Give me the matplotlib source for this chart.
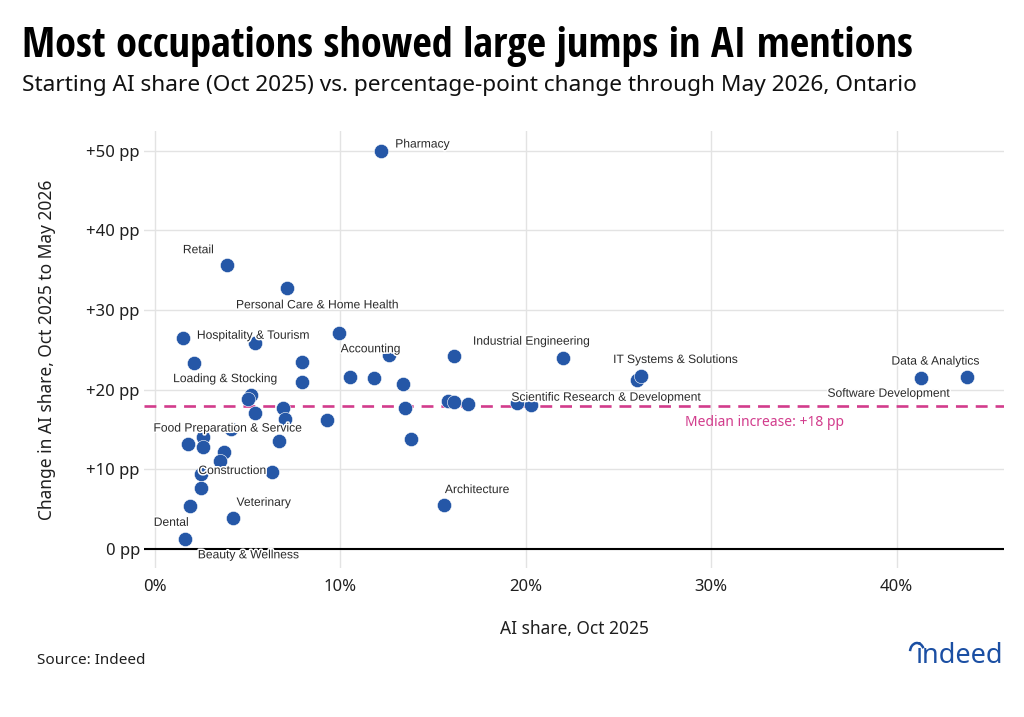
"""Scatter of starting AI share vs. change in AI share by occupation, Ontario."""

import matplotlib

matplotlib.use("Agg")
import matplotlib.pyplot as plt  # noqa: E402
import matplotlib.patheffects as pe  # noqa: E402
from matplotlib.patches import Arc  # noqa: E402
from matplotlib.ticker import FuncFormatter, MultipleLocator  # noqa: E402

# --- data ---
ai_share_oct25 = [
    12.2, 3.9, 7.1, 9.9, 1.5, 5.4, 2.1, 7.9, 12.6, 16.1,
    22.0, 10.5, 11.8, 7.9, 13.4, 26.0, 26.2, 41.3, 43.8, 5.2,
    5.0, 6.9, 13.5, 5.4, 7.0, 9.3, 13.8, 15.8, 16.1, 16.9,
    19.5, 20.3, 4.1, 2.6, 1.8, 2.6, 6.7, 3.7, 3.5, 6.3,
    2.5, 2.5, 1.9, 4.2, 1.6, 15.6,
]
change_pp = [
    50.0, 35.6, 32.7, 27.1, 26.5, 25.9, 23.3, 23.5, 24.3, 24.2,
    24.0, 21.6, 21.5, 21.0, 20.7, 21.2, 21.7, 21.5, 21.6, 19.3,
    18.8, 17.7, 17.7, 17.0, 16.3, 16.2, 13.8, 18.5, 18.4, 18.2,
    18.3, 18.1, 15.1, 14.1, 13.2, 12.8, 13.5, 12.2, 11.0, 9.6,
    9.4, 7.7, 5.4, 3.9, 1.2, 5.5,
]
# labelled occupations -> index of the point they name
labelled = {
    "Pharmacy": 0,
    "Retail": 1,
    "Personal Care & Home Health": 2,
    "Hospitality & Tourism": 4,
    "Accounting": 8,
    "Industrial Engineering": 10,
    "IT Systems & Solutions": 16,
    "Data & Analytics": 17,
    "Software Development": 18,
    "Loading & Stocking": 19,
    "Scientific Research & Development": 31,
    "Food Preparation & Service": 32,
    "Construction": 40,
    "Dental": 42,
    "Veterinary": 43,
    "Beauty & Wellness": 44,
    "Architecture": 45,
}
median_increase = 17.9

# --- layout: label offsets in pixels from their point (dx, dy, ha) ---
label_offsets = {
    "Pharmacy": (14, 6, "left"),
    "Retail": (-29, 15, "center"),
    "Personal Care & Home Health": (31, -17, "center"),
    "Hospitality & Tourism": (14, 2, "left"),
    "Accounting": (-18, 6, "center"),
    "Industrial Engineering": (-31, 16, "center"),
    "IT Systems & Solutions": (35, 16, "center"),
    "Data & Analytics": (15, 16, "center"),
    "Software Development": (-78, -17, "center"),
    "Loading & Stocking": (-26, 16, "center"),
    "Scientific Research & Development": (75, 7, "center"),
    "Food Preparation & Service": (-3, 0, "center"),
    "Construction": (31, 3, "center"),
    "Dental": (-19, -17, "center"),
    "Veterinary": (31, 15, "center"),
    "Beauty & Wellness": (64, -16, "center"),
    "Architecture": (33, 15, "center"),
}

BLUE = "#2557a7"
PINK = "#d23c8c"
TEXT = "#1f1f1f"
GRID = "#e3e3e3"

plt.rcParams["font.family"] = ["Noto Sans", "DejaVu Sans"]

fig = plt.figure(figsize=(10.24, 7.17), dpi=100)
ax = fig.add_axes([0.1406, 0.2078, 0.8399, 0.6095])

ax.set_xlim(-0.6, 45.8)
ax.set_ylim(-2.4, 52.45)
ax.xaxis.set_major_locator(MultipleLocator(10))
ax.yaxis.set_major_locator(MultipleLocator(10))
ax.xaxis.set_major_formatter(FuncFormatter(lambda v, _: f"{v:.0f}%"))
ax.yaxis.set_major_formatter(
    FuncFormatter(lambda v, _: "0 pp" if v == 0 else f"+{v:.0f} pp")
)
ax.grid(True, color=GRID, linewidth=1.0)
ax.set_axisbelow(True)
for spine in ax.spines.values():
    spine.set_visible(False)
ax.tick_params(length=0, labelsize=12, colors=TEXT)
ax.tick_params(axis="x", pad=8)
ax.tick_params(axis="y", pad=3)

ax.axhline(0, color="black", linewidth=1.5, zorder=2)
ax.axhline(
    median_increase,
    color=PINK,
    linewidth=1.9,
    dashes=(4.5, 3.0),
    zorder=2,
)
ax.text(
    32.9,
    median_increase - 2.0,
    f"Median increase: +{median_increase:.0f} pp",
    color=PINK,
    fontsize=10,
    ha="center",
    va="center",
)

ax.scatter(
    ai_share_oct25,
    change_pp,
    s=105,
    color=BLUE,
    edgecolor="white",
    linewidth=0.4,
    zorder=3,
)

halo = [pe.withStroke(linewidth=2.2, foreground="white")]
for name, idx in labelled.items():
    dx, dy, ha = label_offsets[name]
    ax.annotate(
        name,
        (ai_share_oct25[idx], change_pp[idx]),
        xytext=(dx, dy),
        textcoords="offset pixels",
        ha=ha,
        va="center",
        fontsize=8.7,
        family=["Liberation Sans", "DejaVu Sans"],
        color="#2a2a2a",
        path_effects=halo,
        zorder=4,
    )

ax.set_xlabel("AI share, Oct 2025", fontsize=12.5, color=TEXT, labelpad=18)
ax.set_ylabel(
    "Change in AI share, Oct 2025 to May 2026", fontsize=12.5, color=TEXT, labelpad=22
)

fig.text(
    0.021,
    1 - 57 / 717,
    "Most occupations showed large jumps in AI mentions",
    fontsize=30.5,
    fontweight="bold",
    family=["Open Sans Condensed", "Noto Sans", "DejaVu Sans"],
    fontstretch="condensed",
    va="baseline",
    color="black",
)
fig.text(
    0.021,
    1 - 91 / 717,
    "Starting AI share (Oct 2025) vs. percentage-point change through May 2026, Ontario",
    fontsize=16.3,
    va="baseline",
    color="#111111",
)
fig.text(0.036, 1 - 660 / 717, "Source: Indeed", fontsize=11, va="center", color=TEXT)

# indeed wordmark
fig.text(
    0.980,
    1 - 656 / 717,
    "indeed",
    fontsize=19.5,
    fontweight="bold",
    color="#1b4fa3",
    ha="right",
    va="center",
)
fig.add_artist(
    Arc(
        (917 / 1024, 1 - 652 / 717),
        14 / 1024,
        18 / 717,
        theta1=40,
        theta2=170,
        transform=fig.transFigure,
        color="#1b4fa3",
        linewidth=1.8,
    )
)

fig.savefig("out.png", dpi=100)
